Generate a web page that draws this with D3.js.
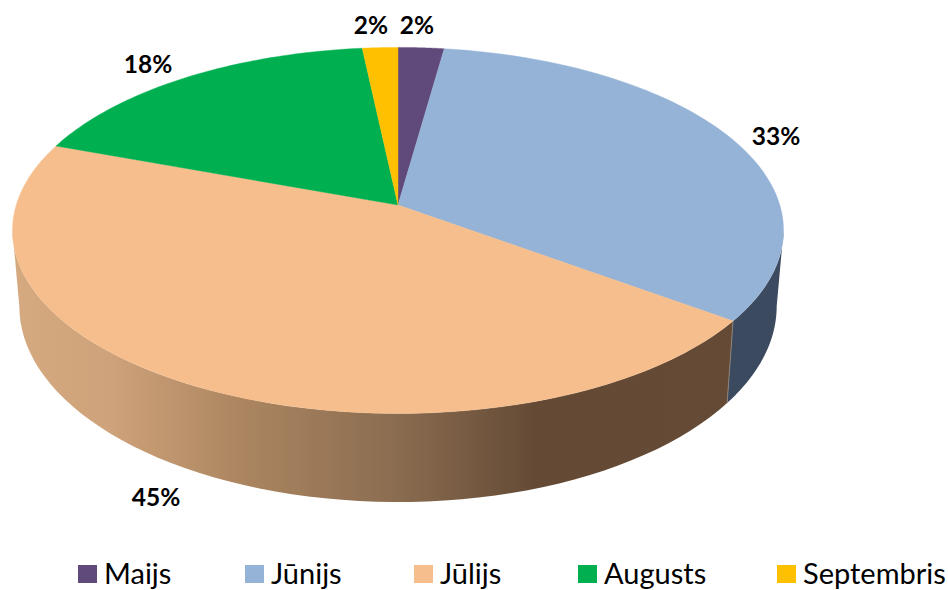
<!DOCTYPE html>
<html><head><meta charset="utf-8">
<script src="https://cdn.jsdelivr.net/npm/d3@7/dist/d3.min.js"></script>
<style>html,body{margin:0;padding:0;background:#fff}svg{display:block}</style>
</head><body><svg id="c" width="948" height="590"></svg>
<script>
const categories = ["Maijs","Jūnijs","Jūlijs","Augusts","Septembris"];
const values = [2.2,32.9,45.5,17.7,1.7];
const labels = ["2%","33%","45%","18%","2%"];
const topColors = ["#604a7b","#95b3d7","#f6be8c","#00b050","#ffc000"];
const sideColors = ["#30263f","#3b4a5e","#654b36","#006028","#806000"];
const labelPos = [[417,26],[776,137],[156,498],[148,65],[371,26]];
const legendX = [78,245,414,578,777];

const svg = d3.select("#c");
const pie = d3.pie().sort(null).value(d=>d)(values);
const color = d3.scaleOrdinal(categories, topColors);
const side = d3.scaleOrdinal(categories, sideColors);

// projective mapping of the disc: (a,b) radii, (cx,cy) centre, k perspective
const K = 0.139;
function proj(p){ return t=>{ const u=Math.sin(t),v=Math.cos(t),w=1+K*v;
  return [p.cx+p.a*u/w, p.cy-p.b*v/w]; }; }
const topP = proj({cx:398,cy:205,a:381.8,b:179.5});
const botP = proj({cx:398,cy:279,a:375,b:192});
const line = d3.line();
const arcPts = (f,a0,a1)=>d3.range(0,61).map(i=>f(a0+(a1-a0)*i/60));

const defs = svg.append("defs");
const grad = defs.append("linearGradient").attr("id","julSide")
  .attr("gradientUnits","userSpaceOnUse").attr("x1",12).attr("x2",783).attr("y1",0).attr("y2",0);
[[0,"#d6aa80"],[0.13,"#cea27a"],[0.3,"#ab8560"],[0.5,"#8a6c50"],[0.68,"#644a35"],[1,"#654b36"]]
  .forEach(s=>grad.append("stop").attr("offset",s[0]).attr("stop-color",s[1]));

// side walls run between the two silhouette tangent angles of the disc
const frontStart = Math.acos(-K), frontEnd = 2*Math.PI-frontStart;
const sideG = svg.append("g");
pie.forEach((d,i)=>{
  const a0=Math.max(d.startAngle,frontStart),a1=Math.min(d.endAngle,frontEnd);
  if(a1<=a0) return;
  const fill = categories[i]==="Jūlijs" ? "url(#julSide)" : side(categories[i]);
  const pts = arcPts(topP,a0,a1).concat(arcPts(botP,a0,a1).reverse());
  sideG.append("path").attr("d",line(pts)+"Z").attr("fill",fill);
});
// Cut edge between the Jūnijs and Jūlijs walls
const cut = pie[1].endAngle;
svg.append("path").attr("d",line([topP(cut),botP(cut)])).attr("stroke","#8a8078").attr("stroke-width",1).attr("fill","none");

const topG = svg.append("g");
pie.forEach((d,i)=>{
  const pts=[[398,205]].concat(arcPts(topP,d.startAngle,d.endAngle));
  const f=color(categories[i]);
  topG.append("path").attr("d",line(pts)+"Z").attr("fill",f).attr("stroke",f).attr("stroke-width",0.4);
});

svg.append("g").selectAll("text").data(labels).join("text")
  .attr("x",(d,i)=>labelPos[i][0]).attr("y",(d,i)=>labelPos[i][1]+8)
  .attr("text-anchor","middle").attr("font-family","Lato").attr("font-weight",700)
  .attr("font-size",24.5).attr("fill","#000").text(d=>d);

const lg = svg.append("g").selectAll("g").data(categories).join("g")
  .attr("transform",(d,i)=>`translate(${legendX[i]},565)`);
lg.append("rect").attr("width",19).attr("height",18).attr("fill",d=>color(d));
lg.append("text").attr("x",26).attr("y",19).attr("font-family","Lato").attr("font-size",29)
  .attr("fill","#000").text(d=>d);
</script></body></html>
